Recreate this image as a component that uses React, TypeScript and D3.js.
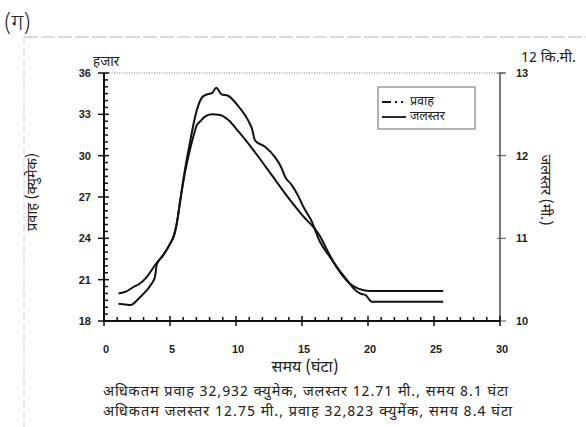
import React from 'react';
import * as d3 from 'd3';

// time (hours) for each series
const flowTime = [1.1, 1.7, 2.2, 2.7, 3.2, 3.9, 4.5, 5.0, 5.3, 5.5, 5.8, 6.1, 6.5, 6.8, 7.0, 7.3, 7.65, 8.16, 8.8, 9.4, 10.2, 11.4, 12.7, 14.0, 15.0, 16.4, 16.9, 17.6, 18.6, 19.6, 20.2, 25.7];
// flow, thousand cumecs
const flowValues = [20.0, 20.15, 20.45, 20.7, 21.15, 22.1, 22.8, 23.6, 24.2, 25.0, 26.9, 28.6, 30.4, 31.5, 32.15, 32.5, 32.83, 33.0, 32.95, 32.6, 31.74, 30.3, 28.6, 26.9, 25.7, 24.1, 23.15, 21.94, 20.74, 20.25, 20.18, 20.18];

const levelTime = [1.1, 1.6, 2.0, 2.7, 3.6, 3.86, 4.0, 4.5, 5.0, 5.3, 5.5, 5.8, 6.1, 6.5, 7.0, 7.5, 8.0, 8.2, 8.5, 8.9, 9.4, 10.2, 10.9, 11.2, 11.45, 12.2, 12.95, 13.45, 13.7, 14.2, 14.7, 15.1, 15.7, 16.36, 17.1, 17.9, 18.4, 18.9, 19.4, 19.8, 20.3, 25.7];
// water level, metres
const levelValues = [10.208, 10.2, 10.193, 10.283, 10.45, 10.533, 10.683, 10.8, 10.933, 11.033, 11.167, 11.483, 11.8, 12.15, 12.533, 12.717, 12.75, 12.758, 12.822, 12.742, 12.725, 12.592, 12.433, 12.33, 12.183, 12.108, 11.983, 11.85, 11.75, 11.65, 11.517, 11.383, 11.217, 10.958, 10.778, 10.597, 10.497, 10.395, 10.333, 10.315, 10.233, 10.233];

const flowTicks = [18, 21, 24, 27, 30, 33, 36];
const levelTicks = [10, 11, 12, 13];
const timeTicks = [0, 5, 10, 15, 20, 25, 30];

const legendLabels = ['प्रवाह', 'जलस्तर'];
const noteLines = [
  'अधिकतम प्रवाह 32,932 क्युमेक, जलस्तर 12.71 मी., समय 8.1 घंटा',
  'अधिकतम जलस्तर 12.75 मी., प्रवाह 32,823 क्युमेंक, समय 8.4 घंटा',
];

const W = 586, H = 427;
const left = 104, right = 500, top = 73, bottom = 321;
const deva = "'Noto Sans Devanagari', 'Lohit Devanagari', 'Mangal', 'FreeSans', sans-serif";
const num = "'Liberation Sans', Arial, sans-serif";

export default function App() {
  const x = d3.scaleLinear().domain([0, 30]).range([left, right]);
  const yFlow = d3.scaleLinear().domain([18, 36]).range([bottom, top]);
  const yLevel = d3.scaleLinear().domain([10, 13]).range([bottom, top]);

  const flowLine = d3.line<number>()
    .x((_, i) => x(flowTime[i]))
    .y(d => yFlow(d))
    .curve(d3.curveMonotoneX);
  const levelLine = d3.line<number>()
    .x((_, i) => x(levelTime[i]))
    .y(d => yLevel(d))
    .curve(d3.curveMonotoneX);

  const minorX = d3.range(1, 30).filter(v => v % 5 !== 0);
  const minorY = d3.range(18.5, 36, 0.5).filter(v => v % 3 !== 0);

  return (
    <div style={{ position: 'fixed', left: 0, top: 0 }}>
      <svg width={W} height={H} style={{ display: 'block', background: '#fff' }}>
        {/* page frame */}
        <line x1={24} x2={W} y1={37} y2={37} stroke="#b5b5b5" strokeWidth={1} strokeDasharray="14 3" />
        <line x1={24} x2={24} y1={37} y2={H} stroke="#d0d0d0" strokeWidth={1} strokeDasharray="8 3" />
        <text x={4} y={30} fontFamily={deva} fontSize={22} fontWeight={300} fill="#222">(ग)</text>
        <text x={521} y={62} fontFamily={deva} fontSize={14.5} fill="#222">12 कि.मी.</text>

        {/* top dotted line */}
        <line x1={left} x2={right} y1={top} y2={top} stroke="#777" strokeWidth={1} strokeDasharray="1 1.5" />
        <line x1={right} x2={right + 5} y1={top} y2={top} stroke="#555" strokeWidth={1} />

        {/* left axis */}
        <line x1={left} x2={left} y1={top} y2={bottom} stroke="#111" strokeWidth={2} />
        {minorY.map(v => (
          <line key={'my' + v} x1={left} x2={left + 4} y1={yFlow(v)} y2={yFlow(v)} stroke="#111" strokeWidth={1.5} />
        ))}
        {flowTicks.map(v => (
          <g key={'fy' + v}>
            <line x1={left - 6} x2={left + 5} y1={yFlow(v)} y2={yFlow(v)} stroke="#111" strokeWidth={1.5} />
            <text x={left - 13} y={yFlow(v) + 4} textAnchor="end" fontFamily={num} fontWeight="bold" fontSize={11} fill="#222">{v}</text>
          </g>
        ))}
        <text x={93} y={66} fontFamily={deva} fontSize={13.5} fill="#222">हजार</text>

        {/* right axis */}
        <line x1={right} x2={right} y1={top} y2={bottom} stroke="#222" strokeWidth={1.2} />
        {levelTicks.map(v => (
          <g key={'ly' + v}>
            <line x1={right - 3} x2={right + 6} y1={yLevel(v)} y2={yLevel(v)} stroke="#555" strokeWidth={1} />
            <text x={right + 16} y={yLevel(v) + 4} fontFamily={num} fontWeight="bold" fontSize={11} fill="#222">{v}</text>
          </g>
        ))}

        {/* bottom axis */}
        <line x1={left} x2={right} y1={bottom} y2={bottom} stroke="#111" strokeWidth={2} />
        {minorX.map(v => (
          <line key={'mx' + v} x1={x(v)} x2={x(v)} y1={bottom} y2={bottom - 4} stroke="#111" strokeWidth={1.5} />
        ))}
        {timeTicks.map(v => (
          <g key={'tx' + v}>
            <line x1={x(v)} x2={x(v)} y1={bottom - 5} y2={bottom + 5} stroke="#111" strokeWidth={1.5} />
            <text x={x(v) + 2} y={bottom + 32} textAnchor="middle" fontFamily={num} fontWeight="bold" fontSize={11} fill="#222">{v}</text>
          </g>
        ))}

        {/* axis titles */}
        <text x={305} y={372} textAnchor="middle" fontFamily={deva} fontSize={16} fill="#222">समय (घंटा)</text>
        <text transform="translate(37,192) rotate(-90)" textAnchor="middle" fontFamily={deva} fontSize={14.5} fill="#222">प्रवाह (क्युमेक)</text>
        <text transform="translate(541,190) rotate(90)" textAnchor="middle" fontFamily={deva} fontSize={14.5} fill="#222">जलस्तर (मी.)</text>

        {/* series */}
        <path d={flowLine(flowValues) || ''} fill="none" stroke="#111" strokeWidth={2} />
        <path d={levelLine(levelValues) || ''} fill="none" stroke="#111" strokeWidth={2} />

        {/* legend */}
        <rect x={378} y={87} width={97} height={42} fill="#fff" stroke="#666" strokeWidth={1} />
        <line x1={382} x2={406} y1={102} y2={102} stroke="#111" strokeWidth={1.8} strokeDasharray="9 4 2 4 2 3" />
        <line x1={382} x2={406} y1={117} y2={117} stroke="#111" strokeWidth={1.8} />
        {legendLabels.map((l, i) => (
          <text key={l} x={410} y={105 + i * 15} fontFamily={deva} fontSize={12.5} fill="#222">{l}</text>
        ))}

        {/* notes */}
        {noteLines.map((l, i) => (
          <text key={i} x={103} y={396 + i * 20} fontFamily={deva} fontSize={14.5}
            textLength={i === 0 ? 405 : 409} lengthAdjust="spacing" fill="#222">{l}</text>
        ))}
      </svg>
    </div>
  );
}
